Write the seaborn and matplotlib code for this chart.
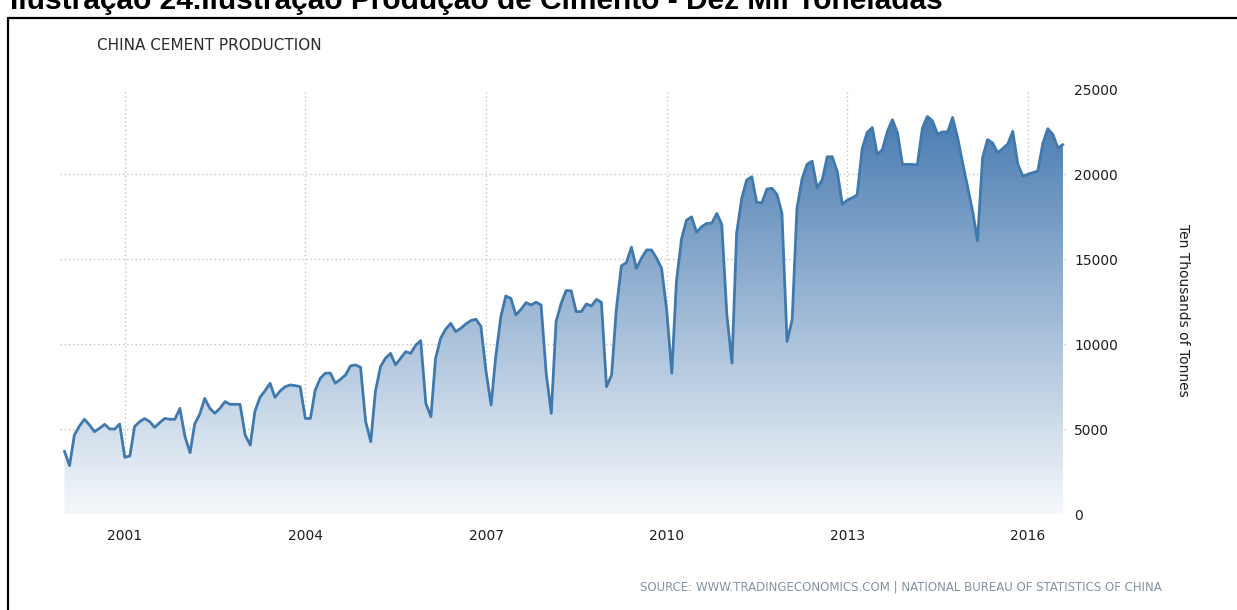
import pandas as pd
import numpy as np
import seaborn as sns
import matplotlib
matplotlib.use("Agg")
import matplotlib.pyplot as plt
import matplotlib.dates as mdates
from matplotlib.colors import LinearSegmentedColormap
from matplotlib.lines import Line2D

# monthly cement production, ten thousand tonnes, Jan 2000 - Aug 2016
first_month = "2000-01-01"
production = [
    3700, 2850, 4650, 5180, 5580, 5240, 4850, 5050, 5280, 5010, 5000, 5300,
    3340, 3420, 5140, 5440, 5620, 5440, 5100, 5380, 5630, 5580, 5580, 6220,
    4560, 3610, 5300, 5890, 6810, 6220, 5930, 6220, 6620, 6460, 6460, 6460,
    4650, 4060, 6030, 6870, 7250, 7700, 6870, 7245, 7500, 7600, 7560, 7500,
    5630, 5630, 7300, 7990, 8290, 8300, 7700, 7930, 8190, 8720, 8780, 8640,
    5440, 4260, 7210, 8680, 9170, 9460, 8780, 9170, 9560, 9460, 9950, 10210,
    6520, 5730, 9170, 10350, 10880, 11230, 10740, 10940, 11190, 11390, 11470, 11050,
    8400, 6420, 9270, 11620, 12840, 12700, 11720, 12050, 12450, 12310, 12470, 12310,
    8290, 5930, 11330, 12410, 13160, 13140, 11920, 11920, 12370, 12250, 12640, 12470,
    7500, 8190, 12020, 14610, 14800, 15710, 14470, 15060, 15550, 15550, 15060, 14470,
    12000, 8290, 13700, 16200, 17300, 17500, 16590, 16920, 17120, 17120, 17700, 17060,
    11730, 8890, 16530, 18590, 19670, 19860, 18350, 18330, 19140, 19180, 18820, 17710,
    10160, 11440, 18000, 19730, 20590, 20780, 19220, 19670, 21040, 21040, 20160, 18240,
    18490, 18630, 18790, 21530, 22470, 22760, 21170, 21460, 22540, 23220, 22440, 20590,
    20590, 20590, 20550, 22730, 23410, 23160, 22380, 22500, 22500, 23350, 22150, 20680,
    19220, 17760, 16100, 20980, 22050, 21850, 21270, 21520, 21790, 22540, 20590, 19900,
    20000, 20100, 20200, 21850, 22690, 22340, 21560, 21760,
]
tick_years = [2001, 2004, 2007, 2010, 2013, 2016]
y_ticks = [0, 5000, 10000, 15000, 20000, 25000]

df = pd.DataFrame({
    "date": pd.date_range(first_month, periods=len(production), freq="MS"),
    "value": production,
})

sns.set_style("white")
plt.rcParams["font.family"] = ["DejaVu Sans"]

W, H = 1237, 610
fig = plt.figure(figsize=(W / 100, H / 100), dpi=100)
ax = fig.add_axes([60 / W, 1 - 514 / H, (1066 - 60) / W, (514 - 89.5) / H])

line_color = "#3f79ad"
sns.lineplot(data=df, x="date", y="value", ax=ax, color=line_color, linewidth=2.0, zorder=3)

# gradient fill under the line
xnum = mdates.date2num(df["date"])
poly = ax.fill_between(df["date"], df["value"], 0, facecolor="none", edgecolor="none")
clip = poly.get_paths()[0]
cmap = LinearSegmentedColormap.from_list("fade", ["#f5f8fb", "#4679b0"])
grad = np.linspace(0, 1, 256).reshape(-1, 1)
im = ax.imshow(grad, extent=[xnum[0], xnum[-1], 0, 24000], origin="lower",
               aspect="auto", cmap=cmap, zorder=2)
im.set_clip_path(clip, transform=ax.transData)

ax.set_xlim(mdates.date2num(pd.Timestamp("1999-12-05")), mdates.date2num(pd.Timestamp("2016-08-19")))
ax.set_ylim(0, 25000)

ax.set_xticks([mdates.date2num(pd.Timestamp(f"{y}-01-01")) for y in tick_years])
ax.set_xticklabels([str(y) for y in tick_years])
ax.set_yticks(y_ticks)
ax.set_yticklabels([str(v) for v in y_ticks])
ax.yaxis.tick_right()

ax.grid(True, color="#c4c4c4", linestyle=(0, (1, 2)), linewidth=1.0)
ax.set_axisbelow(True)
for s in ax.spines.values():
    s.set_visible(False)
ax.tick_params(axis="x", length=5, color="#cfcfcf", pad=6, labelsize=10, labelcolor="#1e1e1e")
ax.tick_params(axis="y", length=0, pad=6, labelsize=10, labelcolor="#1e1e1e")
ax.set_xlabel("")
ax.set_ylabel("")

fig.text(1183 / W, 1 - 310 / H, "Ten Thousands of Tonnes", rotation=270,
         ha="center", va="center", fontsize=10, color="#1e1e1e")
fig.text(97 / W, 1 - 46 / H, "CHINA CEMENT PRODUCTION", ha="left", va="center",
         fontsize=11, color="#2b2b2b")
fig.text(1162 / W, 1 - 587 / H,
         "SOURCE: WWW.TRADINGECONOMICS.COM | NATIONAL BUREAU OF STATISTICS OF CHINA",
         ha="right", va="center", fontsize=8.5, color="#8493a3")

# page caption and frame
fig.text(10 / W, 1 - 9 / H, "Ilustração 24.Ilustração Produção de Cimento - Dez Mil Toneladas",
         ha="left", va="baseline", fontsize=21.5, fontweight="bold",
         family=["Liberation Sans", "DejaVu Sans"], color="black")
fig.add_artist(Line2D([8 / W, 1], [1 - 18 / H, 1 - 18 / H], color="black", linewidth=1.6))
fig.add_artist(Line2D([8 / W, 8 / W], [0, 1 - 18 / H], color="black", linewidth=1.6))

fig.savefig("out.png", dpi=100)
